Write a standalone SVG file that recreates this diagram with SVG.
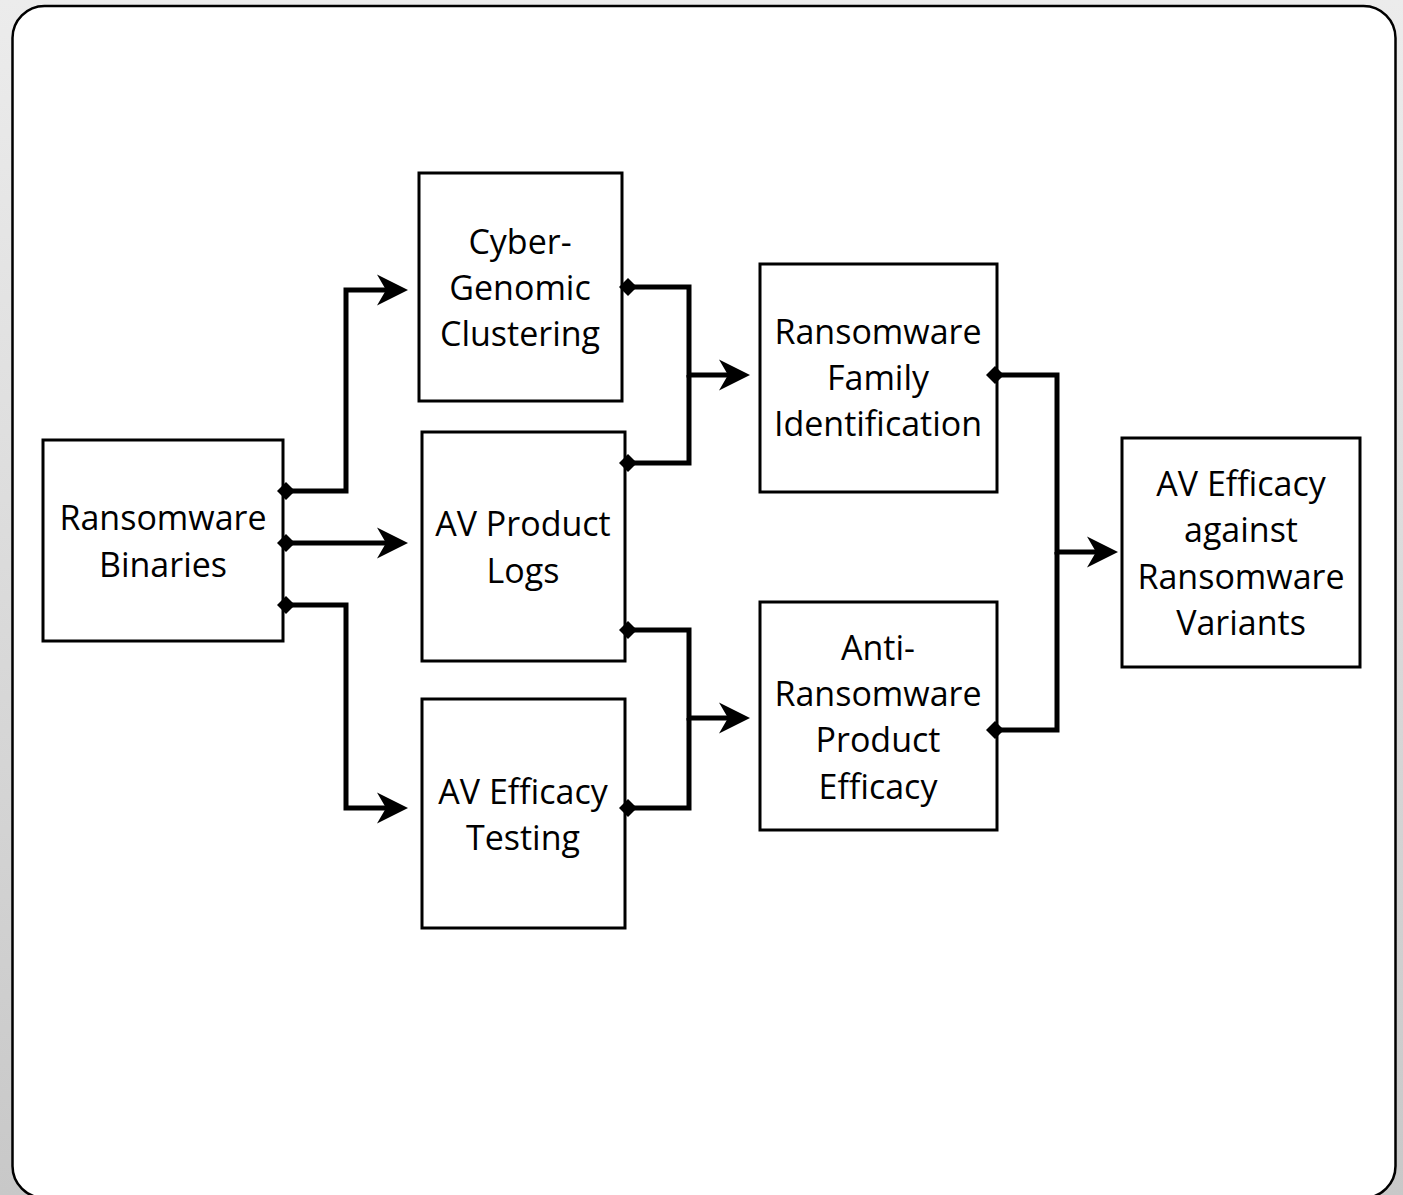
<svg xmlns="http://www.w3.org/2000/svg" width="1403" height="1195" viewBox="0 0 1403 1195">
  <defs>
    <linearGradient id="bg" x1="0" y1="0" x2="0" y2="1">
      <stop offset="0" stop-color="#ececec"/>
      <stop offset="1" stop-color="#c8c8c8"/>
    </linearGradient>
    <marker id="arrow" markerUnits="userSpaceOnUse" markerWidth="34" markerHeight="34" viewBox="0 0 34 34" refX="10" refY="17" orient="auto">
      <path d="M0 1.5 L31 17 L0 32.5 L9 17 Z" fill="#000"/>
    </marker>
    <marker id="dia" markerUnits="userSpaceOnUse" markerWidth="20" markerHeight="20" viewBox="0 0 20 20" refX="10" refY="10" orient="auto">
      <path d="M1 10 L10 1 L19 10 L10 19 Z" fill="#000"/>
    </marker>
  </defs>
  <style>
    .box { fill: #fff; stroke: #000; stroke-width: 3; }
    .lbl { font-family: "Open Sans", "Noto Sans", "Liberation Sans", sans-serif; font-size: 34px; fill: #000; text-anchor: middle; }
    .con { fill: none; stroke: #000; stroke-width: 5; stroke-linejoin: miter; }
  </style>
  <rect x="0" y="0" width="1403" height="1195" fill="url(#bg)"/>
  <rect x="12.5" y="6" width="1383" height="1192" rx="32" ry="32" fill="#fff" stroke="#000" stroke-width="2.5"/>

  <g id="n-binaries">
    <rect class="box" x="43" y="440" width="240" height="201"/>
    <text class="lbl" x="163" y="530">Ransomware</text>
    <text class="lbl" x="163" y="577">Binaries</text>
  </g>
  <g id="n-cyber">
    <rect class="box" x="419" y="173" width="203" height="228"/>
    <text class="lbl" x="520" y="254">Cyber-</text>
    <text class="lbl" x="520" y="300">Genomic</text>
    <text class="lbl" x="520" y="346">Clustering</text>
  </g>
  <g id="n-avlogs">
    <rect class="box" x="422" y="432" width="203" height="229"/>
    <text class="lbl" x="523" y="536">AV Product</text>
    <text class="lbl" x="523" y="583">Logs</text>
  </g>
  <g id="n-avtest">
    <rect class="box" x="422" y="699" width="203" height="229"/>
    <text class="lbl" x="523" y="804">AV Efficacy</text>
    <text class="lbl" x="523" y="850">Testing</text>
  </g>
  <g id="n-family">
    <rect class="box" x="760" y="264" width="237" height="228"/>
    <text class="lbl" x="878" y="344">Ransomware</text>
    <text class="lbl" x="878" y="390">Family</text>
    <text class="lbl" x="878" y="436">Identification</text>
  </g>
  <g id="n-anti">
    <rect class="box" x="760" y="602" width="237" height="228"/>
    <text class="lbl" x="878" y="660">Anti-</text>
    <text class="lbl" x="878" y="706">Ransomware</text>
    <text class="lbl" x="878" y="752">Product</text>
    <text class="lbl" x="878" y="799">Efficacy</text>
  </g>
  <g id="n-result">
    <rect class="box" x="1122" y="438" width="238" height="229"/>
    <text class="lbl" x="1241" y="496">AV Efficacy</text>
    <text class="lbl" x="1241" y="542">against</text>
    <text class="lbl" x="1241" y="589">Ransomware</text>
    <text class="lbl" x="1241" y="635">Variants</text>
  </g>

  <g id="connectors">
    <path class="con" d="M286 491 H346 V290 H387" marker-start="url(#dia)" marker-end="url(#arrow)"/>
    <path class="con" d="M286 543 H387" marker-start="url(#dia)" marker-end="url(#arrow)"/>
    <path class="con" d="M286 605 H346 V808 H387" marker-start="url(#dia)" marker-end="url(#arrow)"/>
    <path class="con" d="M628 287 H689 V375 H729" marker-start="url(#dia)" marker-end="url(#arrow)"/>
    <path class="con" d="M628 463 H689 V375" marker-start="url(#dia)"/>
    <path class="con" d="M628 630 H689 V718 H729" marker-start="url(#dia)" marker-end="url(#arrow)"/>
    <path class="con" d="M628 808 H689 V718" marker-start="url(#dia)"/>
    <path class="con" d="M995 375 H1057 V552 H1097" marker-start="url(#dia)" marker-end="url(#arrow)"/>
    <path class="con" d="M995 730 H1057 V552" marker-start="url(#dia)"/>
  </g>
</svg>
